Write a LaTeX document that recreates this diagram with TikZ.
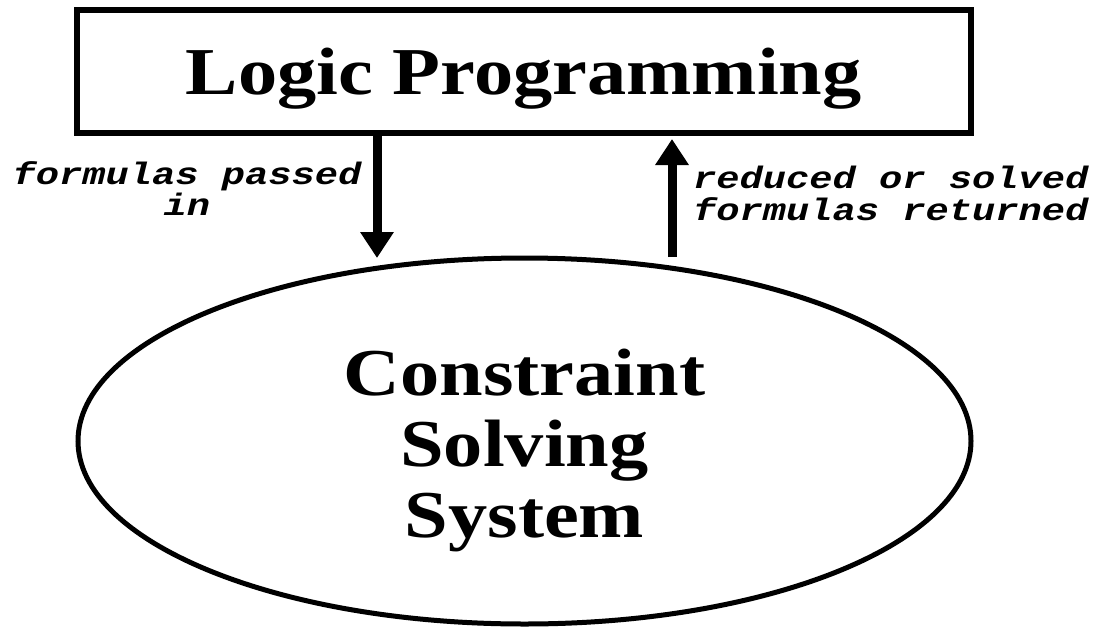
\documentclass[tikz,border=0pt]{standalone}
\usepackage{fontspec}
\usetikzlibrary{arrows.meta,shapes.geometric}
% Wide bold serif for the headings, wide bold oblique typewriter for the notes
\newfontfamily\headfont[FakeStretch=1.17]{Liberation Serif}
\newfontfamily\notefont[FakeStretch=1.25]{Liberation Mono}
\tikzset{
  headtext/.style={font=\headfont\bfseries\fontsize{67}{71}\selectfont},
  lpbox/.style={headtext, draw, rectangle, line width=6pt,
    minimum width=894.5pt, minimum height=123pt, inner sep=0pt,
    text height=45pt, text depth=0pt},
  cssell/.style={draw, ellipse, line width=5pt,
    minimum width=893pt, minimum height=366pt, inner sep=0pt},
  heading/.style={headtext, align=center, inner sep=0pt},
  note/.style={font=\notefont\bfseries\itshape\fontsize{31}{31.5}\selectfont,
    inner sep=0pt},
  flow/.style={line width=9pt, -{Triangle[width=32pt,length=26pt]}},
}
\begin{document}
\begin{tikzpicture}[x=1pt,y=-1pt]
  \useasboundingbox (0,0) rectangle (1108,627);
  % the two components
  \node[lpbox] (lp) at (523.75,71.5) {Logic Programming};
  \node[cssell] (css) at (524.5,441) {};
  \node[heading] (csstext) at (524.5,450.6) {Constraint\\Solving\\System};
  % free ends of the two flows, just above the ellipse
  \coordinate (inEnd) at (377,258);
  \coordinate (outStart) at (672,257);
  \draw[flow] (lp.south -| inEnd) -- (inEnd);
  \draw[flow] (outStart) -- ([yshift=-3pt]outStart |- lp.south);
  % flow notes
  \node[note, align=center] (inNote) at (187,188.75) {formulas passed\\in};
  \node[note, align=left, anchor=west] (outNote) at (693,193.5)
    {reduced or solved\\formulas returned};
\end{tikzpicture}
\end{document}
